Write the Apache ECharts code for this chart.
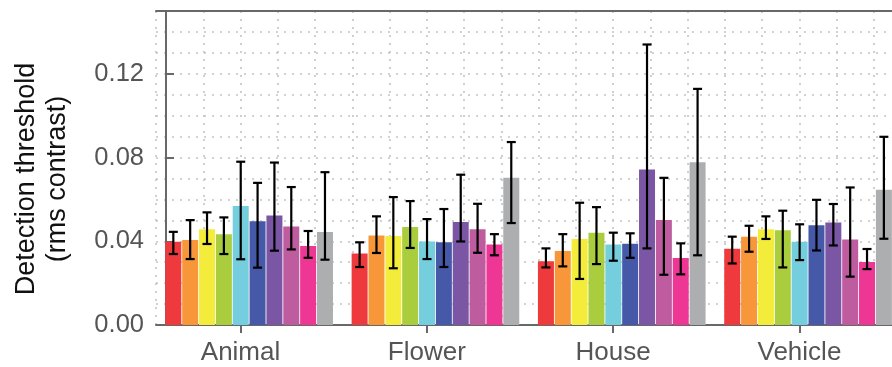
<!DOCTYPE html>
<html><head><meta charset="utf-8">
<script src="https://cdn.jsdelivr.net/npm/echarts@6/dist/echarts.min.js"></script>
<style>html,body{margin:0;padding:0;background:#fff}#c{width:892px;height:367px}</style>
</head><body><div id="c"></div>
<script>
// ---------- data ----------
const categories = ['Animal', 'Flower', 'House', 'Vehicle'];
const yTickValues = [0, 0.04, 0.08, 0.12];

const meanAnimal  = [0.0398, 0.0406, 0.0457, 0.0434, 0.0568, 0.0496, 0.0523, 0.0471, 0.0377, 0.0444];
const lowAnimal   = [0.0339, 0.0315, 0.0387, 0.0339, 0.0314, 0.0274, 0.0355, 0.0361, 0.0321, 0.0312];
const highAnimal  = [0.0445, 0.0501, 0.0538, 0.0514, 0.0780, 0.0679, 0.0776, 0.0659, 0.0449, 0.0730];

const meanFlower  = [0.0342, 0.0428, 0.0425, 0.0468, 0.0399, 0.0395, 0.0492, 0.0457, 0.0385, 0.0703];
const lowFlower   = [0.0277, 0.0344, 0.0271, 0.0368, 0.0315, 0.0277, 0.0399, 0.0345, 0.0333, 0.0487];
const highFlower  = [0.0395, 0.0519, 0.0611, 0.0592, 0.0506, 0.0554, 0.0718, 0.0579, 0.0434, 0.0874];

const meanHouse   = [0.0304, 0.0353, 0.0411, 0.0441, 0.0385, 0.0388, 0.0743, 0.0501, 0.0320, 0.0778];
const lowHouse    = [0.0275, 0.0280, 0.0220, 0.0291, 0.0307, 0.0321, 0.0366, 0.0240, 0.0242, 0.0333];
const highHouse   = [0.0366, 0.0434, 0.0584, 0.0563, 0.0441, 0.0438, 0.1340, 0.0703, 0.0390, 0.1128];

const meanVehicle = [0.0364, 0.0422, 0.0458, 0.0453, 0.0398, 0.0476, 0.0490, 0.0409, 0.0301, 0.0646];
const lowVehicle  = [0.0294, 0.0350, 0.0411, 0.0275, 0.0310, 0.0356, 0.0380, 0.0231, 0.0267, 0.0412];
const highVehicle = [0.0422, 0.0474, 0.0519, 0.0546, 0.0481, 0.0598, 0.0578, 0.0657, 0.0363, 0.0899];

// ---------- style ----------
const barColors = ['#EE3A3C', '#F7973A', '#F4EC3A', '#AACD3E', '#74CEDD',
                   '#4659A8', '#7B56A4', '#BF5CA0', '#EE3795', '#ADAEB0'];
const BAR_W = 16, BAR_GAP = 0.85;
const AXIS_COLOR = '#686868';
const FONT = 'Liberation Sans, Arial, sans-serif';

const means = [meanAnimal, meanFlower, meanHouse, meanVehicle];
const lows  = [lowAnimal, lowFlower, lowHouse, lowVehicle];
const highs = [highAnimal, highFlower, highHouse, highVehicle];

// x helper axis units: one unit = 1/5 of a category band
const X_MIN = -0.2684, X_MAX = 20 + X_MIN;
const catTickUnits = categories.map((c, i) => 2 + 5 * i);

const barSeries = barColors.map((col, s) => ({
  type: 'bar',
  xAxisIndex: 0, yAxisIndex: 0,
  data: means.map(m => m[s]),
  barWidth: BAR_W,
  barGap: (BAR_GAP / BAR_W * 100).toFixed(2) + '%',
  itemStyle: { color: col },
  silent: true,
  z: 2
}));

const errData = [];
means.forEach((m, c) => m.forEach((v, s) => errData.push([c, s, lows[c][s], highs[c][s]])));

const errSeries = {
  type: 'custom',
  xAxisIndex: 0, yAxisIndex: 0,
  data: errData,
  encode: { x: 0, y: [2, 3] },
  z: 5,
  silent: true,
  renderItem: function (params, api) {
    const c = api.value(0), s = api.value(1);
    const lo = api.coord([c, api.value(2)]);
    const hi = api.coord([c, api.value(3)]);
    const step = BAR_W + BAR_GAP;
    const x = lo[0] + (s - 4.5) * step;
    const cap = 4.5;
    const st = { stroke: '#000', lineWidth: 2.2 };
    return {
      type: 'group',
      children: [
        { type: 'line', shape: { x1: x, y1: lo[1], x2: x, y2: hi[1] }, style: st },
        { type: 'line', shape: { x1: x - cap, y1: lo[1], x2: x + cap, y2: lo[1] }, style: st },
        { type: 'line', shape: { x1: x - cap, y1: hi[1], x2: x + cap, y2: hi[1] }, style: st }
      ]
    };
  }
};

const dotted = { type: [2, 6], color: '#c4c4c4', width: 1.6 };

const option = {
  animation: false,
  textStyle: { fontFamily: FONT },
  grid: { left: 156, top: 11, right: -9.2, bottom: 42, containLabel: false, outerBoundsMode: 'none' },
  xAxis: [
    { // bars
      type: 'category', data: categories, position: 'bottom',
      axisLine: { show: true, lineStyle: { color: AXIS_COLOR, width: 2 } },
      axisTick: { show: false }, axisLabel: { show: false }, splitLine: { show: false }
    },
    { // vertical dotted grid + top border
      type: 'value', min: X_MIN, max: X_MAX, position: 'top',
      splitNumber: 20, minInterval: 1, maxInterval: 1,
      axisLine: { show: true, onZero: false, lineStyle: { color: AXIS_COLOR, width: 2 } },
      axisTick: { show: false }, axisLabel: { show: false },
      splitLine: { show: true, lineStyle: dotted }
    },
    { // top ticks
      type: 'value', min: X_MIN, max: X_MAX, position: 'top',
      axisLine: { show: false }, splitLine: { show: false },
      axisTick: { show: true, inside: true, length: 8, customValues: catTickUnits,
                  lineStyle: { color: AXIS_COLOR, width: 2 } },
      axisLabel: { show: false }
    },
    { // category labels
      type: 'value', min: X_MIN, max: X_MAX, position: 'bottom',
      axisLine: { show: false }, splitLine: { show: false }, axisTick: { show: false },
      axisLabel: {
        show: true, customValues: catTickUnits, margin: 15,
        fontSize: 26, color: '#555555', fontFamily: FONT,
        formatter: v => categories[Math.round((v - 2) / 5)]
      }
    }
  ],
  yAxis: [
    {
      type: 'value', min: 0, max: 0.15, interval: 0.01,
      axisLine: { show: true, lineStyle: { color: AXIS_COLOR, width: 2 } },
      axisTick: { show: false }, axisLabel: { show: false },
      splitLine: { show: true, lineStyle: dotted }
    },
    {
      type: 'value', min: 0, max: 0.15, position: 'left',
      axisLine: { show: false }, splitLine: { show: false },
      axisTick: { show: true, inside: true, length: 8, customValues: yTickValues,
                  lineStyle: { color: AXIS_COLOR, width: 2 } },
      axisLabel: { show: true, customValues: yTickValues, margin: 12,
                   fontSize: 25.5, color: '#555555', fontFamily: FONT,
                   formatter: v => v.toFixed(2) }
    }
  ],
  graphic: [{
    type: 'text', x: 42, y: 179, rotation: Math.PI / 2,
    style: {
      text: 'Detection threshold\n(rms contrast)',
      font: '27px ' + FONT, fill: '#111', align: 'center', verticalAlign: 'middle',
      lineHeight: 31
    }
  }],
  series: barSeries.concat([errSeries])
};

const chart = echarts.init(document.getElementById('c'), null, { renderer: 'canvas' });
chart.setOption(option);
</script>
</body></html>
